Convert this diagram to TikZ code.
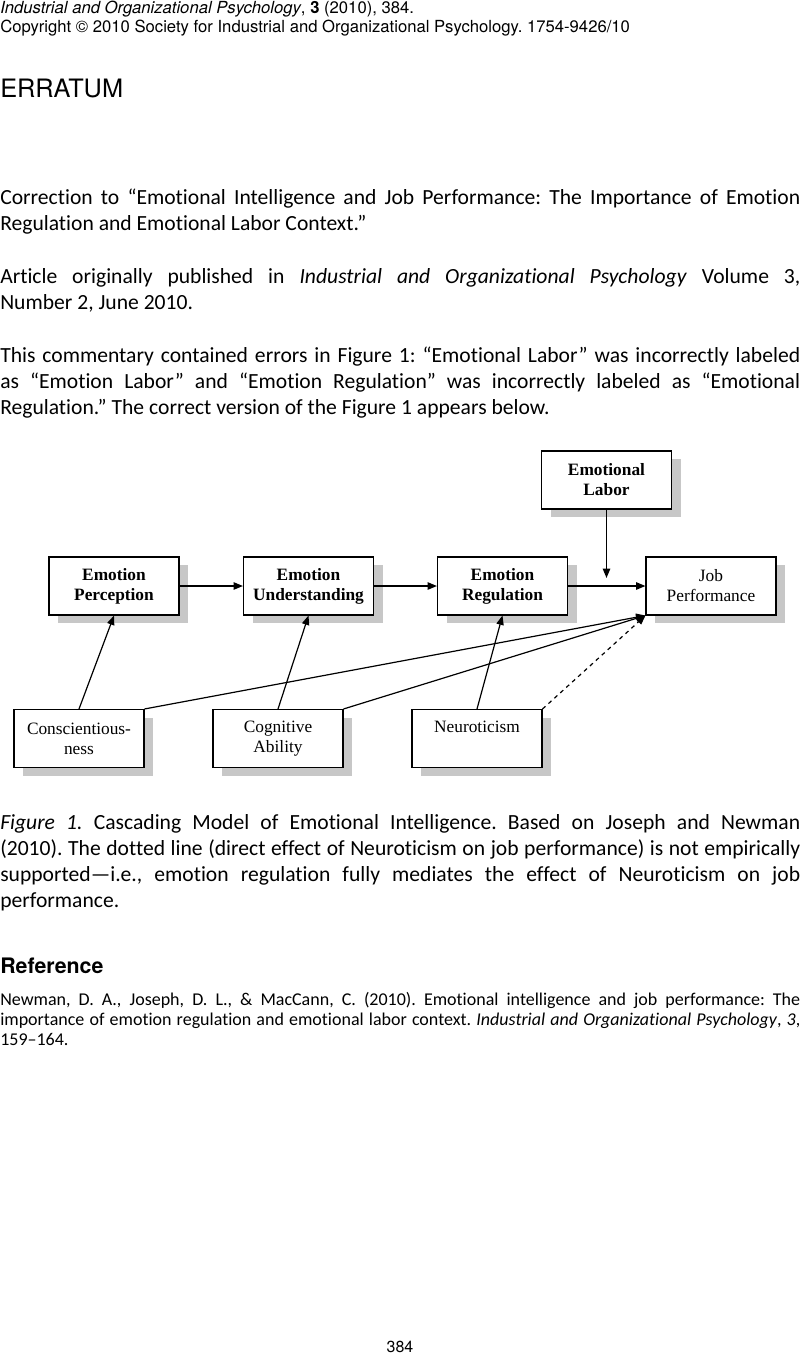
\documentclass[tikz,border=0pt]{standalone}
\usepackage{fontspec}
\usepackage{xcolor}
\setmainfont{Carlito}[Ligatures={TeX,NoCommon}]
\newfontfamily\headfont{TeX Gyre Heros}
\newfontfamily\figfont{Liberation Serif}
\usetikzlibrary{arrows.meta,shadows}
\frenchspacing

\tikzset{
  para/.style={anchor=base west,inner sep=0pt,text width=600pt,align=justify,
    font=\fontsize{16.2}{19.5}\selectfont},
  figbox/.style={draw,line width=0.8pt,fill=white,minimum width=97.5pt,minimum height=43.5pt,
    inner sep=0pt,align=center,font=\figfont\fontsize{13}{15}\selectfont,
    general shadow={fill=black!22,shadow xshift=7pt,shadow yshift=-6pt}},
  path/.style={line width=0.9pt,-{Triangle[length=7pt,width=5.5pt]}},
}

\begin{document}
\begin{tikzpicture}[x=0.75pt,y=-0.75pt]
  \useasboundingbox[fill=white] (0,0) rectangle (800,1356);

  % page head
  \node[anchor=base west,inner sep=0pt,font=\headfont\fontsize{12.5}{14}\selectfont] (head1) at (0,13)
    {\textit{Industrial and Organizational Psychology}, \textbf{3} (2010), 384.};
  \node[anchor=base west,inner sep=0pt,font=\headfont\fontsize{12.5}{14}\selectfont] (head2) at (0,32)
    {Copyright \textcopyright{} 2010 Society for Industrial and Organizational Psychology. 1754-9426/10};
  \node[anchor=base west,inner sep=0pt,font=\headfont\fontsize{19}{22}\selectfont] (erratum) at (0,97) {ERRATUM};

  % text before the figure
  \node[para] (p1) at (0,204) {Correction to ``Emotional Intelligence and Job Performance: The Importance of Emotion\linebreak
    Regulation and Emotional Labor Context.''};
  \node[para] (p2) at (0,283) {Article originally published in \textit{Industrial and Organizational Psychology} Volume 3,\linebreak
    Number 2, June 2010.};
  \node[para] (p3) at (0,362) {This commentary contained errors in Figure 1: ``Emotional Labor'' was incorrectly labeled\linebreak
    as ``Emotion Labor'' and ``Emotion Regulation'' was incorrectly labeled as ``Emotional\linebreak
    Regulation.'' The correct version of the Figure 1 appears below.};

  % figure 1
  \node[figbox] (labor) at (606.5,480) {\bfseries Emotional\\\bfseries Labor};
  \node[figbox] (percep) at (114,586) {\bfseries Emotion\\\bfseries Perception};
  \node[figbox] (underst) at (308.5,586) {\bfseries Emotion\\\bfseries Understanding};
  \node[figbox] (regul) at (502.5,586) {\bfseries Emotion\\\bfseries Regulation};
  \node[figbox] (perf) at (711,586) {Job\\Performance};
  \node[figbox] (consc) at (79,738.5) {Conscientious-\\ness};
  \node[figbox] (cogn) at (278,738.5) {Cognitive\\Ability};
  \node[figbox] (neuro) at (477,738.5) {Neuroticism\\\phantom{Ability}};
  \coordinate (mod) at (606.5,578);

  \foreach \a/\b in {percep/underst,underst/regul,regul/perf}
    \draw[path,line width=1.1pt] (\a) -- (\b);
  \draw[path,line width=1.1pt] (labor) -- (mod);
  \draw[path] (consc.north) -- (percep.south);
  \draw[path] (cogn.north) -- (underst.south);
  \draw[path] (neuro.north) -- (regul.south);
  \foreach \a in {consc,cogn}
    \draw[path] (\a.north east) -- (perf.south west);
  \draw[path,dashed] (neuro.north east) -- (perf.south west);

  % caption
  \node[para] (cap) at (0,829) {\textit{Figure 1.} Cascading Model of Emotional Intelligence. Based on Joseph and Newman\linebreak
    (2010). The dotted line (direct effect of Neuroticism on job performance) is not empirically\linebreak
    supported---i.e., emotion regulation fully mediates the effect of Neuroticism on job\linebreak
    performance.};

  % reference
  \node[anchor=base west,inner sep=0pt,font=\headfont\bfseries\fontsize{16}{19}\selectfont] (refhead) at (0,973) {Reference};
  \node[para,font=\fontsize{13.5}{15}\selectfont] (ref) at (0,1005) {\hangindent=18.75pt\hangafter=1
    Newman, D. A., Joseph, D. L., \& MacCann, C. (2010). Emotional intelligence and job performance: The\linebreak
    importance of emotion regulation and emotional labor context. \textit{Industrial and Organizational Psychology}, \textit{3},\linebreak
    159--164.};

  \node[anchor=base,inner sep=0pt,font=\headfont\fontsize{12}{14}\selectfont] (folio) at (400,1352) {384};
\end{tikzpicture}
\end{document}
